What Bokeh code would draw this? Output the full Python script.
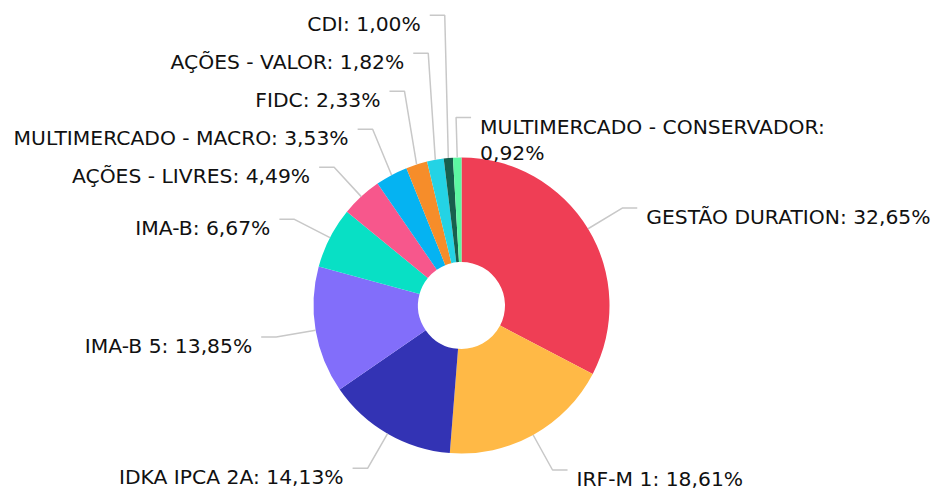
import math
from bokeh.plotting import figure
from bokeh.models import ColumnDataSource, Range1d
from bokeh.core.properties import value
from bokeh.embed import file_html
from bokeh.resources import INLINE

# ---- data ----
categories = ["GESTÃO DURATION", "IRF-M 1", "IDKA IPCA 2A", "IMA-B 5", "IMA-B",
              "AÇÕES - LIVRES", "MULTIMERCADO - MACRO", "FIDC", "AÇÕES - VALOR",
              "CDI", "MULTIMERCADO - CONSERVADOR"]
values = [32.65, 18.61, 14.13, 13.85, 6.67, 4.49, 3.53, 2.33, 1.82, 1.00, 0.92]

# ---- styles / layout ----
colors = ["#EF3E55", "#FFB946", "#3333B4", "#826EFA", "#08E0C5", "#F7578C",
          "#05B3F2", "#F68D2A", "#24D3E5", "#185F4D", "#5CF7A2"]
sides = ["right", "right", "left", "left", "left", "left", "left", "left", "left", "left", "right"]
W, H = 936, 491
CX, CY = 461.0, 305.0
R_OUT, R_IN, R_LABEL = 148.0, 43.5, 188.0
SEG, TEXT_GAP, MIN_SEP, BASE_OFF, LINE_H = 15.0, 9.0, 38.0, 9.0, 26.0
MAX_CHARS = 30

p = figure(width=W, height=H, output_backend="svg", toolbar_location=None,
           x_range=Range1d(0, W), y_range=Range1d(-H, 0), min_border=0)
p.axis.visible = False
p.grid.visible = False
p.outline_line_color = None
p.background_fill_color = "white"
p.border_fill_color = "white"

total = sum(values)
cum = 0.0
start_a, end_a, mids = [], [], []
for v in values:
    s = cum / total
    e = (cum + v) / total
    cum += v
    start_a.append(math.pi / 2 - 2 * math.pi * e)
    end_a.append(math.pi / 2 - 2 * math.pi * s)
    mids.append(math.pi * (s + e))

src = ColumnDataSource(dict(x=[CX] * len(values), y=[-CY] * len(values),
                            start=start_a, end=end_a, color=colors, cat=categories))
p.annular_wedge(x="x", y="y", inner_radius=R_IN, outer_radius=R_OUT,
                start_angle="start", end_angle="end", direction="anticlock",
                fill_color="color", line_color=None, source=src)

# leader lines (screen-down coordinates, converted on draw)
sx = [CX + R_OUT * math.sin(t) for t in mids]
sy = [CY - R_OUT * math.cos(t) for t in mids]
ex = [CX + R_LABEL * math.sin(t) for t in mids]
ey = [CY - R_LABEL * math.cos(t) for t in mids]

for side in ("left", "right"):
    idx = [i for i in range(len(values)) if sides[i] == side]
    idx.sort(key=lambda i: -ey[i])
    prev = None
    for i in idx:
        if prev is not None and ey[i] > prev - MIN_SEP:
            ey[i] = prev - MIN_SEP
        prev = ey[i]

xs, ys = [], []
tl = dict(x=[], y=[], text=[])
tr = dict(x=[], y=[], text=[])
for i, (cat, v) in enumerate(zip(categories, values)):
    d = 1 if sides[i] == "right" else -1
    hx = ex[i] + d * SEG
    xs.append([sx[i], ex[i], hx])
    ys.append([-sy[i], -ey[i], -ey[i]])
    pct = f"{v:.2f}".replace(".", ",") + "%"
    full = f"{cat}: {pct}"
    lines = [full] if len(full) <= MAX_CHARS else [cat + ":", pct]
    tgt = tr if d == 1 else tl
    for k, ln in enumerate(lines):
        tgt["x"].append(ex[i] + d * (SEG + TEXT_GAP))
        tgt["y"].append(-(ey[i] + BASE_OFF + k * LINE_H))
        tgt["text"].append(ln)

p.multi_line(xs=xs, ys=ys, line_color="#c8c8c8", line_width=1.5)
for data, align in ((tl, "right"), (tr, "left")):
    p.text(x="x", y="y", text="text", source=ColumnDataSource(data),
           text_font=value("DejaVu Sans"), text_font_size="20.3px",
           text_color="#111111", text_align=align, text_baseline="alphabetic")

open("out.html", "w").write(file_html(p, INLINE))
